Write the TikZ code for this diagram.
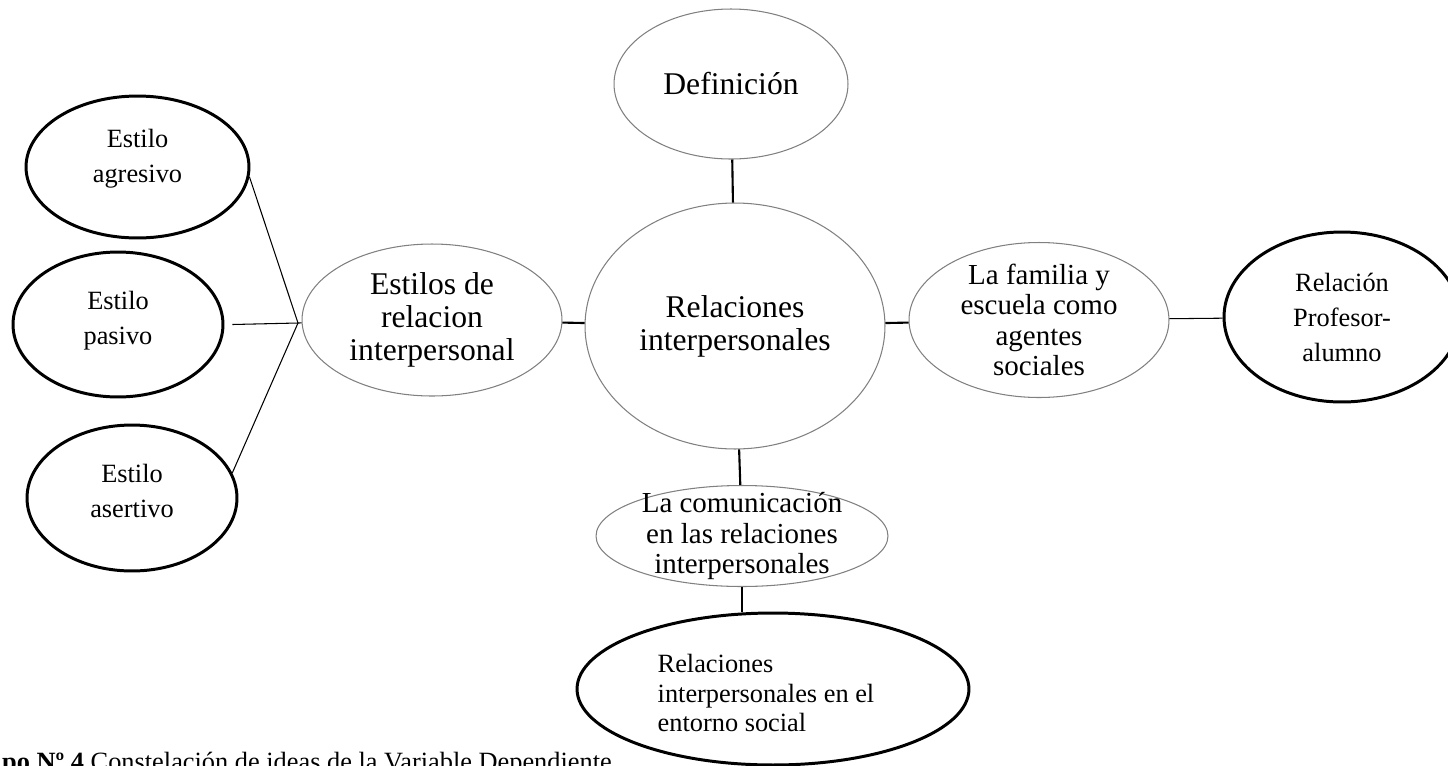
\documentclass[tikz,border=0pt]{standalone}
\usepackage{fontspec}
\setmainfont{Liberation Serif}
\usepackage{tikz}
\usetikzlibrary{shapes.geometric}

\begin{document}
\begin{tikzpicture}[
        x=0.02cm, y=-0.02cm,
        idea/.style={ellipse, draw=black!50, line width=0.6pt, inner sep=0pt},
        leaf/.style={ellipse, draw, line width=1.7pt, inner sep=0pt},
        bigtext/.style={align=center, font=\fontsize{18}{18.8}\selectfont},
        midtext/.style={align=center, font=\fontsize{16.5}{17.4}\selectfont},
        smalltext/.style={align=center, font=\fontsize{15}{19.9}\selectfont},
        link/.style={line width=1.2pt},
        thinlink/.style={line width=0.6pt}
    ]
        % page frame, pixel units
        \clip[use as bounding box] (0,0) rectangle (1448,765);

        % central ideas
        \node[idea, minimum width=6cm, minimum height=4.92cm,
            label={[bigtext]center:Relaciones\\interpersonales}] (rel) at (735,326) {};
        \node[idea, minimum width=4.68cm, minimum height=3cm,
            label={[bigtext]center:Definición}] (def) at (731,84) {};
        \node[idea, minimum width=5.2cm, minimum height=3.04cm,
            label={[bigtext]center:Estilos de\\relacion\\interpersonal}] (estilos) at (432,320) {};
        \node[idea, minimum width=5.2cm, minimum height=3.1cm,
            label={[midtext]center:La familia y\\escuela como\\agentes\\sociales}] (familia) at (1039,320) {};
        \node[idea, minimum width=5.84cm, minimum height=2.02cm,
            label={[midtext]center:La comunicación\\en las relaciones\\interpersonales}] (comun) at (742,536) {};

        % outer ideas
        \node[leaf, minimum width=4.46cm, minimum height=2.84cm,
            label={[smalltext, yshift=5pt]center:Estilo\\agresivo}] (agresivo) at (137.5,167) {};
        \node[leaf, minimum width=4.2cm, minimum height=2.9cm,
            label={[smalltext, yshift=2pt]center:Estilo\\pasivo}] (pasivo) at (118,324.5) {};
        \node[leaf, minimum width=4.2cm, minimum height=2.92cm,
            label={[smalltext, yshift=4pt]center:Estilo\\asertivo}] (asertivo) at (132,498) {};
        \node[leaf, minimum width=4.72cm, minimum height=3.4cm,
            label={[smalltext]center:Relación\\Profesor-\\alumno}] (profesor) at (1342,317) {};
        \node[leaf, minimum width=7.84cm, minimum height=3.04cm,
            label={[smalltext, align=left, font=\fontsize{15}{16.8}\selectfont, xshift=-4pt, yshift=-2.5pt]center:Relaciones\\interpersonales en el\\entorno social}] (entorno) at (773,689) {};

        % connectors
        \coordinate (hub) at (298,323);
        \draw[link] (def) -- (rel);
        \draw[link] (rel) -- (estilos);
        \draw[link] (rel) -- (familia);
        \draw[link] (rel) -- (comun);
        \draw[thinlink] (familia) -- (profesor);
        \draw[thinlink] (comun.south) -- (comun.south |- entorno.north);
        \draw[thinlink] (agresivo.-5) -- (hub);
        \draw[thinlink] (pasivo.east) ++(8,0) -- (hub);
        \draw[thinlink] (asertivo.14) -- (hub);
        \draw[thinlink] (hub) -- (estilos);

        \node[anchor=base west, smalltext] (caption) at (-4,770) {\textbf{po Nº 4} Constelación de ideas de la Variable Dependiente};
    \end{tikzpicture}
\end{document}
